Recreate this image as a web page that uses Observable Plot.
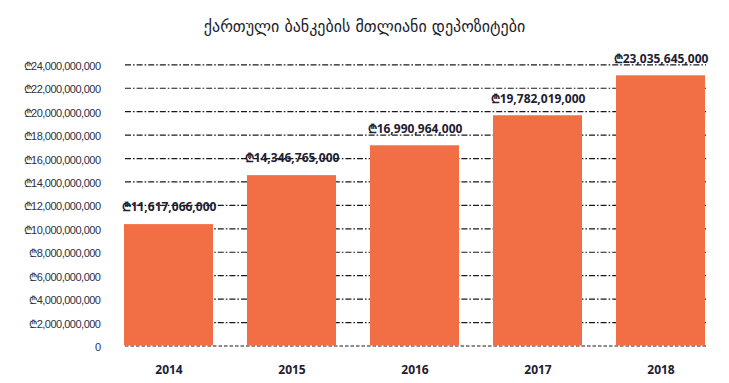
<!DOCTYPE html>
<html>
<head>
<meta charset="utf-8">
<script src="https://cdn.jsdelivr.net/npm/d3@7"></script>
<script src="https://cdn.jsdelivr.net/npm/@observablehq/plot@0.6"></script>
<style>
  html, body { margin: 0; padding: 0; background: #fff; }
  #title { height: 44px; box-sizing: border-box; padding-top: 17px; text-align: center;
    font-family: "DejaVu Sans", sans-serif; font-size: 16px; color: #1b1d2b; line-height: 20px; }
  #chart svg { display: block; }
  #chart g[aria-label="y-axis tick label"] { letter-spacing: -0.5px; }
</style>
</head>
<body>
<div id="title">ქართული ბანკების მთლიანი დეპოზიტები</div>
<div id="chart"></div>
<script>
const years = ["2014", "2015", "2016", "2017", "2018"];
// values printed on the labels
const deposits = [11617066000, 14346765000, 16990964000, 19782019000, 23035645000];
// bar heights as drawn in the picture
const barHeights = [10360000000, 14540000000, 17090000000, 19650000000, 23060000000];
const yTicks = [0, 2e9, 4e9, 6e9, 8e9, 10e9, 12e9, 14e9, 16e9, 18e9, 20e9, 22e9, 24e9];

const data = years.map((y, i) => ({year: y, bar: barHeights[i], value: deposits[i]}));
const fmt = d3.format(",");
const lari = v => v === 0 ? "0" : "\u20BE" + fmt(v);

const chart = Plot.plot({
  width: 729,
  height: 339,
  marginLeft: 125,
  marginRight: 23,
  marginTop: 20.3,
  marginBottom: 37.5,
  style: {background: "#fff", overflow: "visible"},
  x: {domain: years, range: [123, 706], paddingInner: 0.279, paddingOuter: 0, align: 0.5, label: null},
  y: {domain: [0, 24e9], label: null},
  marks: [
    Plot.ruleY(yTicks.filter(d => d > 0), {stroke: "#1a1a1a", strokeWidth: 1.2, strokeDasharray: "6,2,1.6,2"}),
    Plot.ruleY([0], {stroke: "#1a1a1a", strokeWidth: 1.2, strokeDasharray: "3.5,2"}),
    Plot.barY(data, {x: "year", y: "bar", fill: "#F26F45"}),
    Plot.text(data, {x: "year", y: "bar", text: d => "\u20BE" + fmt(d.value), dy: -17,
      fill: "#1d2033", fontWeight: "bold", fontSize: 12, fontFamily: "'Open Sans', sans-serif", lineAnchor: "middle"}),
    Plot.axisY({ticks: yTicks, tickFormat: lari, tickSize: 0, tickPadding: 25, dy: 1.5,
      fontFamily: "'Liberation Sans', Arial, sans-serif", fontSize: 11, fill: "#2c2f3f", label: null}),
    Plot.axisX({tickSize: 0, tickPadding: 19, fontFamily: "'Open Sans', sans-serif", fontWeight: "bold",
      fontSize: 12, fill: "#1d2033", label: null})
  ]
});
document.getElementById("chart").appendChild(chart);
</script>
</body>
</html>
